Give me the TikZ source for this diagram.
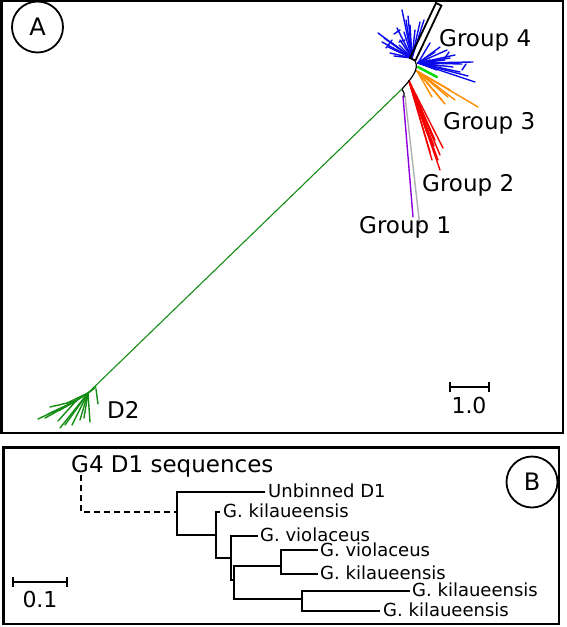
\documentclass[tikz,border=0pt]{standalone}
\usepackage{fontspec}
\setmainfont{DejaVu Sans}
\definecolor{grpblue}{RGB}{10,10,235}
\definecolor{grpgreen}{RGB}{20,140,20}
\definecolor{grplime}{RGB}{0,220,0}
\definecolor{grporange}{RGB}{255,140,0}
\definecolor{grpred}{RGB}{245,0,0}
\definecolor{grppurple}{RGB}{140,0,220}
\definecolor{grpgray}{RGB}{175,175,175}
\begin{document}
\begin{tikzpicture}[x=1pt,y=-1pt,
  frame/.style={line width=2.2pt},
  tag/.style={draw,circle,line width=1.8pt,minimum size=51pt,inner sep=0pt,font=\fontsize{24}{28}\selectfont},
  grp/.style={anchor=base west,inner sep=0pt,font=\fontsize{23}{27}\selectfont},
  leaf/.style={anchor=base west,inner sep=0pt,font=\fontsize{18}{22}\selectfont},
  scl/.style={anchor=base,inner sep=0pt,font=\fontsize{22}{26}\selectfont},
  br/.style={line width=1.7pt},
  tw/.style={line width=1.4pt,line cap=round}]
  \useasboundingbox (0,0) rectangle (566,627);

  % panel A
  \draw[frame] (1.5,0.8) rectangle (563,433);
  \node[tag] (tagA) at (37.5,27) {A};

  \coordinate (hubL) at (412,58);
  \coordinate (hubR) at (418,63);
  \coordinate (hubO) at (417,71);
  \coordinate (hubR2) at (409,81);
  \coordinate (root) at (402,89);
  \coordinate (hubD) at (88,393);
  \coordinate (hubD2) at (76,401);

  \foreach \x/\y in {402/10,406/20,410/25,378/33,384/38,392/43,390/53,396/50,400/40,404/32,420/22,415/30,397/28,388/47,382/42,394/56,408/16,424/20,399/45}
    \draw[tw,grpblue] (hubL) -- (\x,\y);
  \foreach \x/\y in {430/43,440/47,447/50,455/55,473/62,475/82,453/67,437/70,445/60,460/72,430/60,468/76,435/52,450/58,462/64,441/66}
    \draw[tw,grpblue] (hubR) -- (\x,\y);
  \foreach \x/\y/\u/\v in {392/40/386/48,400/30/394/34,445/58/449/52,462/70/466/64,405/40/399/42}
    \draw[tw,grpblue] (\x,\y) -- (\u,\v);
  \draw[tw,grplime,line width=2.4pt] (418,67) -- (437,77);
  \foreach \x/\y in {478/107,442/100,448/97,432/97,450/90,438/87,445/104,455/100}
    \draw[tw,grporange] (hubO) -- (\x,\y);
  \foreach \x/\y in {440/170,443/148,432/160,430/152,435/140,427/133,422/110,425/123,438/160,434/146,440/155}
    \draw[tw,grpred] (hubR2) -- (\x,\y);
  \draw[tw,grppurple] (403,96) -- (413,217);
  \draw[tw,grpgray] (405,96) -- (420,227);
  \draw[line width=1.2pt] (415,61) .. controls (419,68) and (414,76) .. (root);
  \draw[line width=1.2pt] (root) -- (404,93) -- (404,97);
  \draw[line width=1.8pt] (410,58) -- (415.4,60.6) -- (441.4,5.6) -- (436,3) -- cycle;

  \draw[line width=1.1pt,grpgreen] (root) -- (hubD);
  \foreach \x/\y in {90/422,80/420,72/425,65/425,60/428,60/410,67/403,96/387,92/390,84/418}
    \draw[tw,grpgreen] (hubD) -- (\x,\y);
  \draw[tw,grpgreen] (hubD) -- (hubD2);
  \foreach \x/\y in {38/419,45/418,53/413,50/407,58/421,48/414}
    \draw[tw,grpgreen] (hubD2) -- (\x,\y);
  \draw[tw,grpgreen] (96,389) -- (98,404);

  \node[grp] (g4) at (439,46.5) {Group 4};
  \node[grp] (g3) at (443,129) {Group 3};
  \node[grp] (g2) at (422,191) {Group 2};
  \node[grp] (g1) at (359,233) {Group 1};
  \node[grp] (d2) at (107,418) {D2};

  \draw[br] (450,387) -- (489,387);
  \draw[br] (450,382) -- (450,392);
  \draw[br] (489,382) -- (489,392);
  \node[scl] (sA) at (469,413) {1.0};

  % panel B
  \draw[frame] (3.5,447.5) rectangle (559,624);
  \node[tag] (tagB) at (532,482) {B};
  \node[grp] (g4d1) at (71,472) {G4 D1 sequences};
  \coordinate (g4base) at (81,475);

  \coordinate (n1) at (177,512);
  \coordinate (n2) at (216,535);
  \coordinate (n3) at (231,558);
  \coordinate (n4) at (234,580);
  \coordinate (n5) at (281,566);
  \coordinate (n6) at (302,599);
  \coordinate (t1) at (265,492);
  \coordinate (t2) at (220,512);
  \coordinate (t3) at (258,536);
  \coordinate (t4) at (318,550);
  \coordinate (t5) at (318,574);
  \coordinate (t6) at (410,591);
  \coordinate (t7) at (380,611);

  \draw[br,dash pattern=on 6pt off 4pt] (g4base) |- (n1);
  \draw[br] (t1) -| (n1) |- (n2);
  \draw[br] (t2) -| (n2) |- (n3);
  \draw[br] (t3) -| (n3) |- (n4);
  \draw[br] (n5) -| (n4) |- (n6);
  \draw[br] (t4) -| (n5) |- (t5);
  \draw[br] (t6) -| (n6) |- (t7);

  \node[leaf] (l1) at ([xshift=3pt,yshift=-5pt]t1) {Unbinned D1};
  \node[leaf] (l2) at ([xshift=3pt,yshift=-5pt]t2) {G. kilaueensis};
  \node[leaf] (l3) at ([xshift=2pt,yshift=-5pt]t3) {G. violaceus};
  \node[leaf] (l4) at ([xshift=2pt,yshift=-6pt]t4) {G. violaceus};
  \node[leaf] (l5) at ([xshift=2pt,yshift=-5pt]t5) {G. kilaueensis};
  \node[leaf] (l6) at ([xshift=2pt,yshift=-5pt]t6) {G. kilaueensis};
  \node[leaf] (l7) at ([xshift=3pt,yshift=-5pt]t7) {G. kilaueensis};

  \draw[br] (13,582) -- (67,582);
  \draw[br] (13,577) -- (13,587);
  \draw[br] (67,577) -- (67,587);
  \node[scl] (sB) at (40,607.7) {0.1};
\end{tikzpicture}
\end{document}
